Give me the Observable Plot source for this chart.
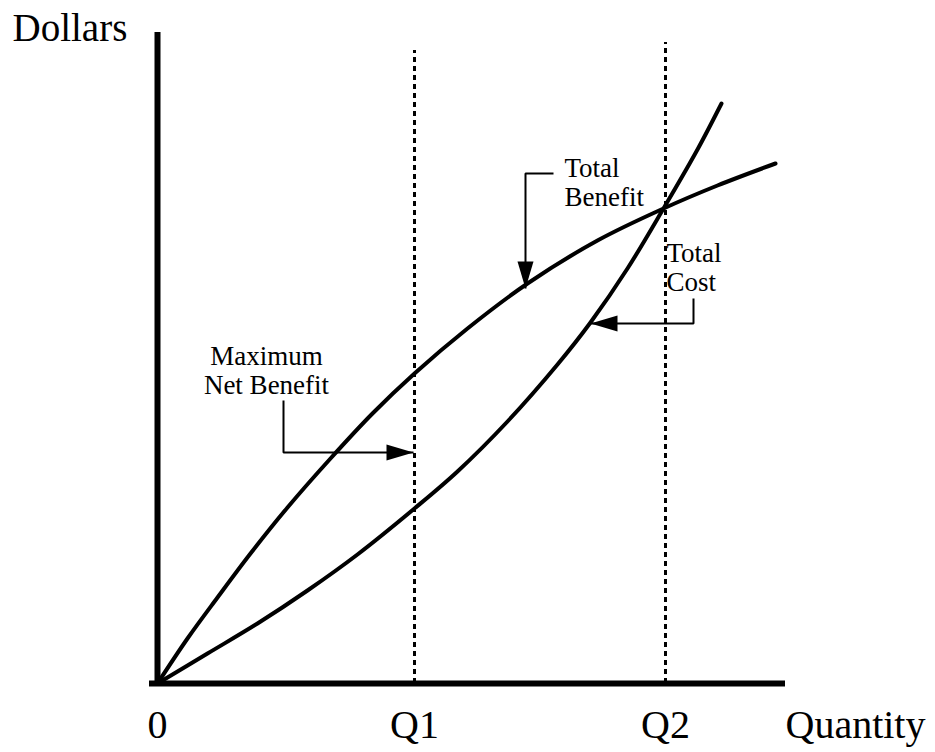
<!DOCTYPE html>
<html>
<head>
<meta charset="utf-8">
<script src="https://cdn.jsdelivr.net/npm/d3@7"></script>
<script src="https://cdn.jsdelivr.net/npm/@observablehq/plot@0.6"></script>
<style>
  html, body { margin: 0; padding: 0; background: #fff; }
  #chart svg { display: block; }
</style>
</head>
<body>
<div id="chart"></div>
<script>
// Quantity / Dollars (arbitrary units)
const benefitQ = [0, 30, 60, 93, 130, 173, 215, 257, 310, 370, 440, 506, 560, 618];
const benefitD = [0, 45, 86, 130, 176, 225, 270, 310, 355, 400, 443, 475, 498, 520];
const costQ = [0, 50, 100, 150, 200, 257, 300, 350, 400, 433, 470, 506, 540, 564];
const costD = [0, 30, 60, 93, 129, 175, 212, 262, 319, 361, 415, 475, 534, 580];
const Q1 = 257;
const Q2 = 508;
const tickLabels = ["0", "Q1", "Q2"];
const tickValues = [0, Q1, Q2];

// Callout arrows: polyline points, last point is the arrow tip
const arrowNames = ["net", "benefit", "cost"];
const arrowPathQ = [[126, 126, 256], [396, 368, 368], [536, 536, 433]];
const arrowPathD = [[283, 231, 231], [510, 510, 395], [385, 360, 360]];
const arrowDir = [0, 90, 180];

const benefit = benefitQ.map((q, i) => ({q, d: benefitD[i]}));
const cost = costQ.map((q, i) => ({q, d: costD[i]}));
const arrowLines = arrowNames.flatMap((name, k) =>
  arrowPathQ[k].map((q, i) => ({name, q, d: arrowPathD[k][i]})));
const arrowHeads = arrowNames.map((name, k) => ({
  name,
  q: arrowPathQ[k][arrowPathQ[k].length - 1],
  d: arrowPathD[k][arrowPathD[k].length - 1],
  rot: arrowDir[k]
}));
const ticks = tickValues.map((q, i) => ({q, label: tickLabels[i]}));

const head = {
  draw(ctx) {
    ctx.moveTo(0, 0);
    ctx.lineTo(-27, -8);
    ctx.lineTo(-27, 8);
    ctx.closePath();
  }
};

const serif = "Liberation Serif, Times New Roman, serif";

const chart = Plot.plot({
  width: 935,
  height: 752,
  margin: 0,
  x: {domain: [-157, 778], range: [0, 935], axis: null},
  y: {domain: [-69, 683], range: [752, 0], axis: null},
  marks: [
    // dotted verticals at Q1 and Q2
    Plot.ruleX([Q1], {y1: 0, y2: 633, stroke: "black", strokeWidth: 3, strokeDasharray: "5,4"}),
    Plot.ruleX([Q2], {y1: 0, y2: 641, stroke: "black", strokeWidth: 3, strokeDasharray: "5,4"}),
    // axes
    Plot.ruleX([0], {y1: -3, y2: 651, stroke: "black", strokeWidth: 6}),
    Plot.ruleY([0], {x1: -8, x2: 628, stroke: "black", strokeWidth: 6}),
    // curves
    Plot.line(benefit, {x: "q", y: "d", curve: "catmull-rom", stroke: "black", strokeWidth: 4}),
    Plot.line(cost, {x: "q", y: "d", curve: "catmull-rom", stroke: "black", strokeWidth: 4}),
    // callout arrows
    Plot.line(arrowLines, {x: "q", y: "d", z: "name", stroke: "black", strokeWidth: 2, strokeLinejoin: "miter", strokeLinecap: "butt"}),
    Plot.dot(arrowHeads, {x: "q", y: "d", rotate: "rot", symbol: head, fill: "black", stroke: "none"}),
    // axis text
    Plot.text(ticks, {x: "q", y: -54, text: "label", fontSize: 40, fontFamily: serif, fill: "black", lineAnchor: "bottom"}),
    Plot.text(["Quantity"], {x: 628, y: -54, text: d => d, fontSize: 40, fontFamily: serif, fill: "black", textAnchor: "start", lineAnchor: "bottom"}),
    Plot.text(["Dollars"], {x: -145, y: 643, text: d => d, fontSize: 39, fontFamily: serif, fill: "black", textAnchor: "start", lineAnchor: "bottom"}),
    // callout labels
    Plot.text(["Maximum\nNet Benefit"], {x: 109, y: 290, text: d => d, fontSize: 27, fontFamily: serif, fill: "black", lineAnchor: "bottom", lineHeight: 1.04}),
    Plot.text(["Total\nBenefit"], {x: 407, y: 508, text: d => d, fontSize: 27, fontFamily: serif, fill: "black", textAnchor: "start", lineAnchor: "top", lineHeight: 1.04, dy: -18}),
    Plot.text(["Total\nCost"], {x: 509, y: 441, text: d => d, fontSize: 27, fontFamily: serif, fill: "black", textAnchor: "start", lineAnchor: "top", lineHeight: 1.04, dy: 0})
  ]
});
document.getElementById("chart").appendChild(chart);
</script>
</body>
</html>
